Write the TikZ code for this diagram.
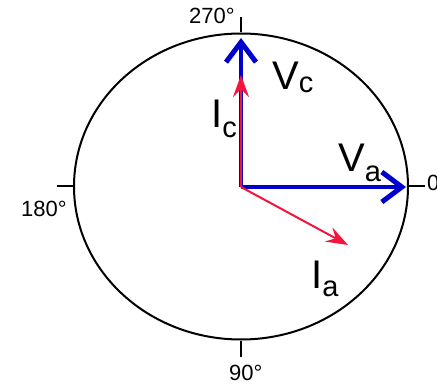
\documentclass[tikz,border=0pt]{standalone}
\usepackage{fontspec}
\setmainfont{Liberation Sans}
\usepackage{xcolor}
\usetikzlibrary{positioning, arrows.meta, calc, shapes.geometric}

\definecolor{phasorblue}{RGB}{0,0,205}
\definecolor{phasorred}{RGB}{245,20,60}
\newcommand{\phsub}[2]{\raisebox{-#1}{\fontsize{29}{30}\selectfont #2}}

\begin{document}
\begin{tikzpicture}[
  x=1pt, y=-1pt,
  dial/.style={draw, ellipse, line width=2pt, minimum width=334pt, minimum height=306pt, inner sep=0pt},
  tickmark/.style={line width=2pt},
  vphasor/.style={draw=phasorblue, line width=4.5pt, -{Straight Barb[length=20pt, width=30pt, line width=5pt]}},
  iphasor/.style={draw=phasorred, line width=2pt, -{Stealth[length=22pt, width=16pt, inset=8pt]}},
  deg/.style={font=\fontsize{22}{24}\selectfont, inner sep=0pt, anchor=base west},
  lbl/.style={font=\fontsize{40}{44}\selectfont, inner sep=0pt, anchor=base west},
]
\clip (0,0) rectangle (437,385);

% === DIAL ===
\coordinate (O) at (241,187);
\node[dial] (rim) at (241,186.5) {};

\draw[tickmark] (rim.north) -- ++(0,-15);
\draw[tickmark] (rim.south) -- ++(0,16);
\draw[tickmark] (rim.west) -- ++(-16,0);
\draw[tickmark] (rim.east) -- ++(16,0);

% angle labels
\node[deg] (d270) at (189,24) {270°};
\node[deg] (d180) at (21,217) {180°};
\node[deg] (d90) at (229,380) {90°};
\node[deg] (d0) at (427,191) {0°};

% === VOLTAGES ===
\coordinate (va tip) at (406,187);
\coordinate (vc tip) at (241,38);
\draw[vphasor] (O) -- (va tip);
\draw[vphasor] (O) -- (vc tip);

% === CURRENTS ===
\coordinate (ic tip) at (241,75);
\coordinate (ia tip) at (348,245);
\draw[iphasor] (O) -- (ic tip);
\draw[iphasor] (O) -- (ia tip);

% labels
\node[lbl] (vc label) at (272,90) {V\phsub{3pt}{c}};
\node[lbl] (va label) at (338,172) {V\phsub{10pt}{a}};
\node[lbl] (ic label) at (211,128) {I\phsub{10pt}{c}};
\node[lbl] (ia label) at (311,288) {I\phsub{9pt}{a}};

\end{tikzpicture}
\end{document}
